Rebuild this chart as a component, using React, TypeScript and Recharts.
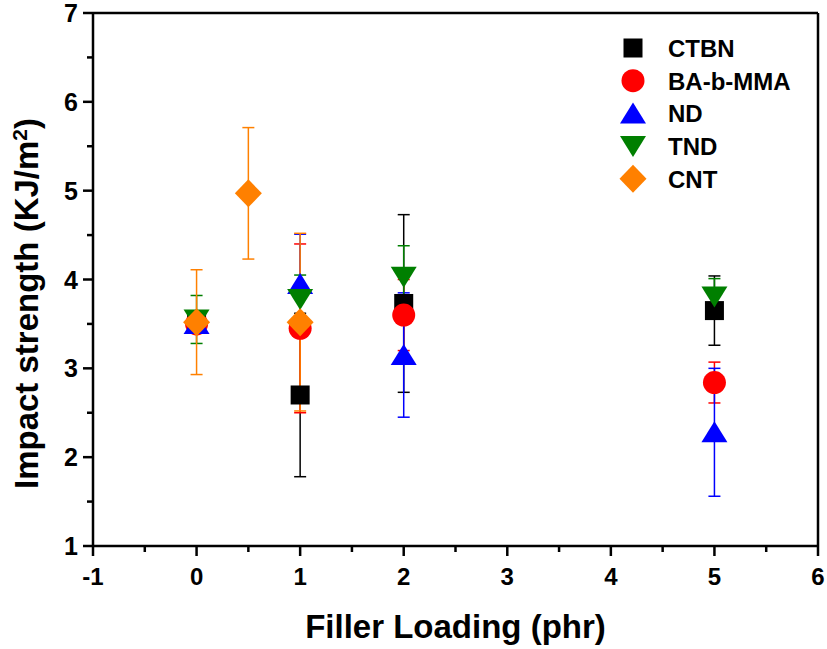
import React from "react";
import {
  ScatterChart,
  Scatter,
  XAxis,
  YAxis,
  ErrorBar,
  ReferenceLine,
} from "recharts";

// filler loading (phr), impact strength (KJ/m2) and error for each filler
const ctbnX = [0, 1, 2, 5];
const ctbnY = [3.5, 2.7, 3.73, 3.65];
const ctbnErr = [0.1, 0.92, 1.0, 0.39];

const baX = [0, 1, 2, 5];
const baY = [3.5, 3.45, 3.6, 2.84];
const baErr = [0.1, 0.95, 0.4, 0.23];

const ndX = [0, 1, 2, 5];
const ndY = [3.5, 3.95, 3.15, 2.28];
const ndErr = [0.1, 0.56, 0.7, 0.72];

const tndX = [0, 1, 2, 5];
const tndY = [3.55, 3.78, 4.03, 3.81];
const tndErr = [0.27, 0.27, 0.35, 0.2];

const cntX = [0, 0.5, 1];
const cntY = [3.52, 4.97, 3.52];
const cntErr = [0.59, 0.74, 1.0];

const xTicks = [-1, -0.5, 0, 0.5, 1, 1.5, 2, 2.5, 3, 3.5, 4, 4.5, 5, 5.5, 6];
const yTicks = [1, 1.5, 2, 2.5, 3, 3.5, 4, 4.5, 5, 5.5, 6, 6.5, 7];

const toRows = (xs: number[], ys: number[], es: number[]) =>
  xs.map((x, i) => ({ x, y: ys[i], err: es[i] }));

const series = [
  { name: "CTBN", kind: "square", color: "#000000", data: toRows(ctbnX, ctbnY, ctbnErr) },
  { name: "BA-b-MMA", kind: "circle", color: "#ff0000", data: toRows(baX, baY, baErr) },
  { name: "ND", kind: "up", color: "#0000ff", data: toRows(ndX, ndY, ndErr) },
  { name: "TND", kind: "down", color: "#007f00", data: toRows(tndX, tndY, tndErr) },
  { name: "CNT", kind: "diamond", color: "#ff8000", data: toRows(cntX, cntY, cntErr) },
];

const FONT = "'Liberation Sans', Arial, sans-serif";

function Marker({ kind, cx, cy, color }: any) {
  if (cx == null || cy == null) return null;
  switch (kind) {
    case "square":
      return <rect x={cx - 9.5} y={cy - 9.5} width={19} height={19} fill={color} />;
    case "circle":
      return <circle cx={cx} cy={cy} r={11.5} fill={color} />;
    case "up":
      return (
        <polygon
          points={`${cx},${cy - 11} ${cx - 13},${cy + 10} ${cx + 13},${cy + 10}`}
          fill={color}
        />
      );
    case "down":
      return (
        <polygon
          points={`${cx - 13},${cy - 10} ${cx + 13},${cy - 10} ${cx},${cy + 11}`}
          fill={color}
        />
      );
    default:
      return (
        <polygon
          points={`${cx},${cy - 14} ${cx + 13.5},${cy} ${cx},${cy + 14} ${cx - 13.5},${cy}`}
          fill={color}
        />
      );
  }
}

const XTick = (props: any) => {
  const { x, y, payload } = props;
  const major = Number.isInteger(payload.value);
  return (
    <g>
      <line x1={x} x2={x} y1={y} y2={y + (major ? 10 : 6)} stroke="#000" strokeWidth={2.5} />
      {major && (
        <text
          x={x}
          y={y + 39}
          textAnchor="middle"
          fontFamily={FONT}
          fontWeight="bold"
          fontSize={24}
          fill="#000"
        >
          {payload.value}
        </text>
      )}
    </g>
  );
};

const YTick = (props: any) => {
  const { x, y, payload } = props;
  const major = Number.isInteger(payload.value);
  return (
    <g>
      <line x1={x} x2={x - (major ? 10 : 6)} y1={y} y2={y} stroke="#000" strokeWidth={2.5} />
      {major && (
        <text
          x={x - 15}
          y={y + 9}
          textAnchor="end"
          fontFamily={FONT}
          fontWeight="bold"
          fontSize={25}
          fill="#000"
        >
          {payload.value}
        </text>
      )}
    </g>
  );
};

const LegendBox = () => (
  <svg width={200} height={180}>
    {series.map((s, i) => (
      <g key={s.name}>
        <Marker kind={s.kind} cx={18} cy={18 + i * 32.7} color={s.color} />
        <text
          x={53}
          y={18 + i * 32.7 + 9}
          fontFamily={FONT}
          fontWeight="bold"
          fontSize={24}
          fill="#000"
        >
          {s.name}
        </text>
      </g>
    ))}
  </svg>
);

export default function App() {
  return (
    <div style={{ position: "absolute", left: 0, top: 0, width: 827, height: 649, background: "#fff" }}>
      <ScatterChart
        width={827}
        height={649}
        margin={{ top: 13, right: 9, bottom: 0, left: 0 }}
      >
        <XAxis
          type="number"
          dataKey="x"
          domain={[-1, 6]}
          ticks={xTicks}
          interval={0}
          allowDecimals
          height={103}
          tickSize={0}
          tickMargin={0}
          tickLine={false}
          tick={<XTick />}
          axisLine={{ stroke: "#000", strokeWidth: 2.5 }}
          label={(p: any) => {
            const vb = p.viewBox;
            return (
              <text
                x={vb.x + vb.width / 2}
                y={vb.y + 92}
                textAnchor="middle"
                fontFamily={FONT}
                fontWeight="bold"
                fontSize={33}
                fill="#000"
              >
                Filler Loading (phr)
              </text>
            );
          }}
        />
        <YAxis
          type="number"
          dataKey="y"
          domain={[1, 7]}
          ticks={yTicks}
          interval={0}
          width={93}
          tickSize={0}
          tickMargin={0}
          tickLine={false}
          tick={<YTick />}
          axisLine={{ stroke: "#000", strokeWidth: 2.5 }}
          label={(p: any) => {
            const vb = p.viewBox;
            const cx = 38;
            const cy = vb.y + vb.height / 2 + 24;
            return (
              <text
                x={cx}
                y={cy}
                transform={`rotate(-90, ${cx}, ${cy})`}
                textAnchor="middle"
                fontFamily={FONT}
                fontWeight="bold"
                fontSize={33}
                fill="#000"
              >
                Impact strength (KJ/m
                <tspan baselineShift="super" fontSize={21}>2</tspan>
                <tspan>)</tspan>
              </text>
            );
          }}
        />
        <ReferenceLine y={7} stroke="#000" strokeWidth={2.5} />
        <ReferenceLine x={6} stroke="#000" strokeWidth={2.5} />
        {series.map((s) => (
          <Scatter
            key={s.name}
            name={s.name}
            data={s.data}
            fill={s.color}
            isAnimationActive={false}
            shape={(p: any) => <Marker kind={s.kind} cx={p.cx} cy={p.cy} color={s.color} />}
          >
            <ErrorBar dataKey="err" direction="y" width={6} stroke={s.color} strokeWidth={1.5} />
          </Scatter>
        ))}
      </ScatterChart>
      <div style={{ position: "absolute", left: 615, top: 30 }}>
        <LegendBox />
      </div>
    </div>
  );
}
